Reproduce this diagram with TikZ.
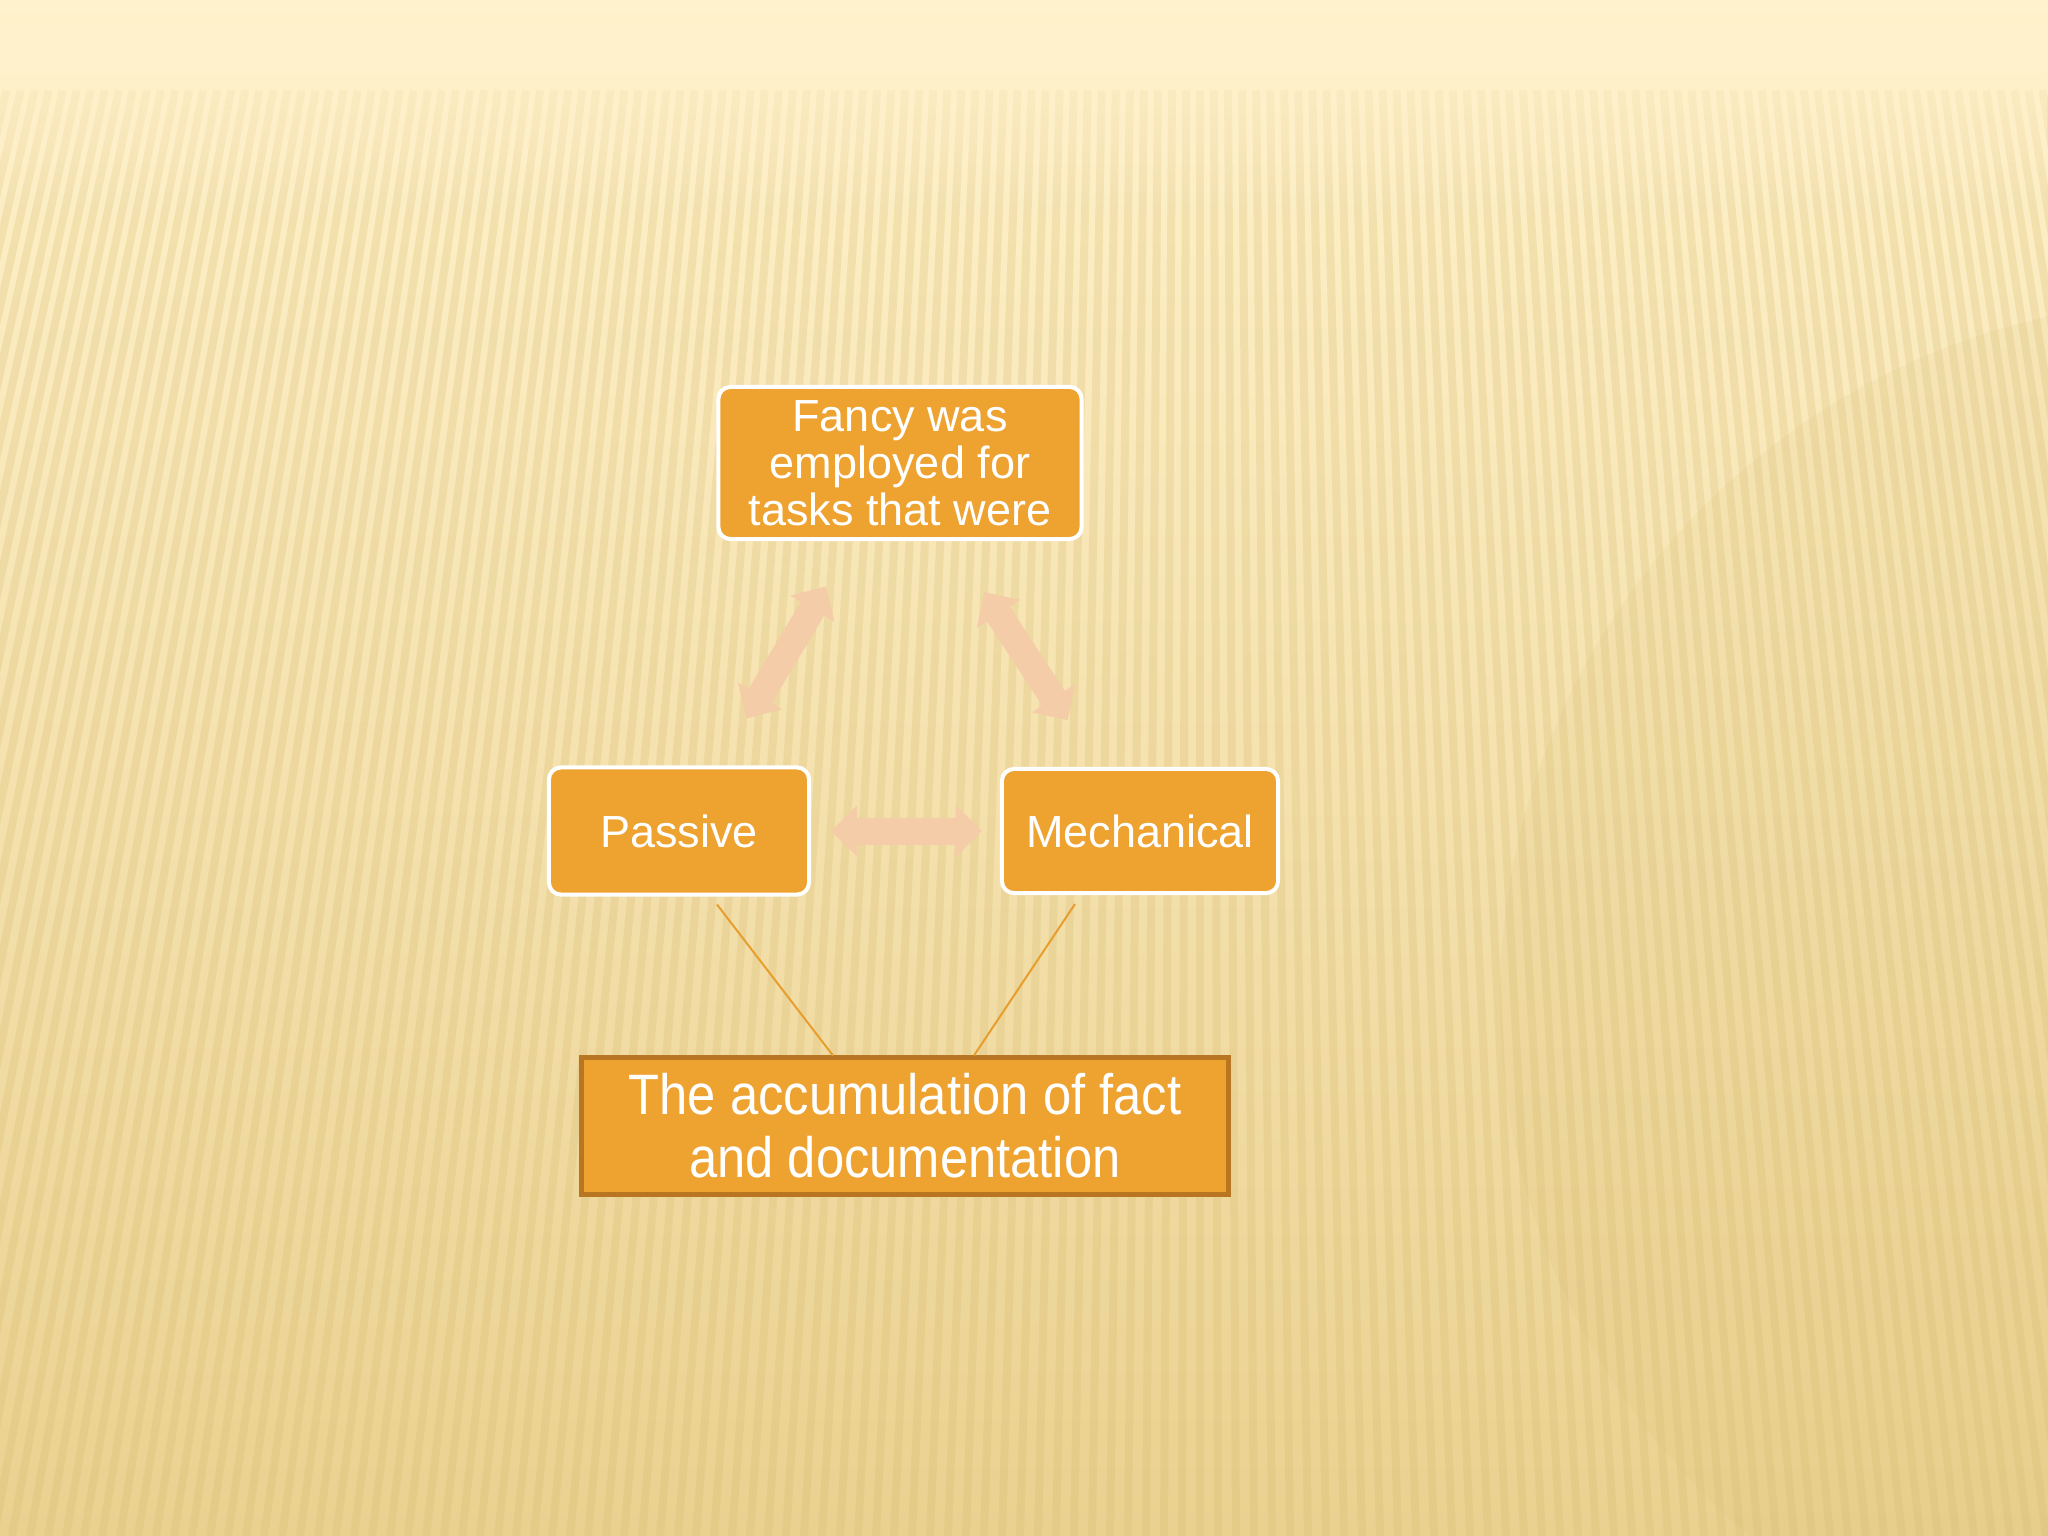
\documentclass[tikz,border=0pt]{standalone}
\usepackage{fontspec}
\setmainfont{Liberation Sans}
\newfontfamily\narrowsans[FakeStretch=0.89]{Liberation Sans}
\usetikzlibrary{arrows.meta,fadings}

\definecolor{bgtop}{RGB}{255,242,204}
\definecolor{bgmid}{RGB}{253,237,193}
\definecolor{bgbot}{RGB}{234,209,144}
\definecolor{boxfill}{RGB}{238,162,48}
\definecolor{boxedge}{RGB}{184,118,34}
\definecolor{arrowc}{RGB}{244,204,168}
\definecolor{linkc}{RGB}{232,158,44}
\definecolor{stripec}{RGB}{214,186,110}

\tikzset{
  box/.style={rectangle,rounded corners=0.12cm,fill=boxfill,draw=white,line width=0.04cm,text=white,align=center,font=\fontsize{12.8}{13.4}\selectfont},
  lowbox/.style={rectangle,fill=boxfill,draw=boxedge,line width=0.05cm,text=white,align=center,font=\narrowsans\fontsize{16.2}{17.9}\selectfont},
  fat/.style={draw=arrowc,line width=0.27cm,{Triangle[width=0.5cm,length=0.26cm]}-{Triangle[width=0.5cm,length=0.26cm]}},
  link/.style={draw=linkc,line width=0.02cm},
  stripe/.style={draw=stripec,line width=0.08cm,opacity=0.25}
}

\begin{document}
\begin{tikzpicture}[x=0.01cm,y=-0.01cm]

    % background
    \useasboundingbox (0,0) rectangle (2048,1536);
    \shade[top color=bgtop,middle color=bgmid,bottom color=bgbot] (0,0) rectangle (2048,1536);
    \begin{scope}
        \clip (0,0) rectangle (2048,1536);
        \fill[stripec,opacity=0.11] (2200,1000) circle [radius=700];
        \foreach \b in {-600,-582,...,2300}
            \draw[stripe] (\b,1536) -- ({\b+(1200-\b)*0.22},90);
        \fill[bgtop,path fading=south] (0,0) rectangle (2048,220);
    \end{scope}

    \node[box,minimum width=3.63cm,minimum height=1.52cm] (fancy) at (900,463) {Fancy was\\employed for\\tasks that were};
    \node[box,minimum width=2.60cm,minimum height=1.27cm] (passive) at (679,831) {Passive};
    \node[box,minimum width=2.76cm,minimum height=1.24cm] (mechanical) at (1140,831) {Mechanical};
    \node[lowbox,minimum width=6.46cm,minimum height=1.36cm] (accum) at (905,1126) {The accumulation of fact\\and documentation};

    \draw[fat,shorten <=0.55cm,shorten >=0.53cm] (passive) -- (fancy);
    \draw[fat,shorten <=0.61cm,shorten >=0.56cm] (fancy) -- (mechanical);
    \draw[fat,shorten <=0.2cm,shorten >=0.18cm] (passive) -- (mechanical);

    \draw[link] ([xshift=0.38cm,yshift=-0.08cm]passive.south) -- ([xshift=-0.72cm]accum.north);
    \draw[link] ([xshift=-0.65cm,yshift=-0.09cm]mechanical.south) -- ([xshift=0.69cm]accum.north);

\end{tikzpicture}
\end{document}
